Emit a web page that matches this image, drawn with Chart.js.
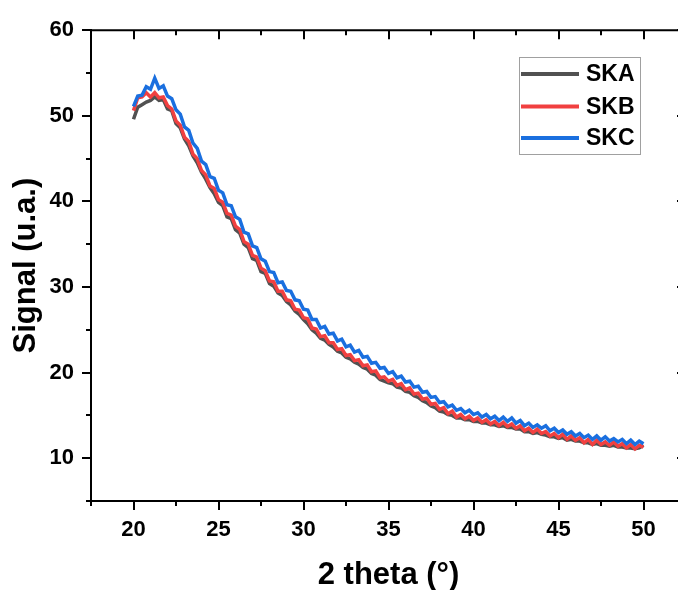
<!DOCTYPE html>
<html><head><meta charset="utf-8">
<script src="https://cdn.jsdelivr.net/npm/chart.js@4/dist/chart.umd.min.js"></script>
<style>html,body{margin:0;padding:0;overflow:hidden;background:#fff;width:678px;height:590px}canvas{display:block}</style>
</head><body><canvas id="c" width="700" height="590"></canvas>
<script>
const angles = [20,20.25,20.5,20.75,21,21.25,21.5,21.75,22,22.25,22.5,22.75,23,23.25,23.5,23.75,24,24.25,24.5,24.75,
25,25.25,25.5,25.75,26,26.25,26.5,26.75,27,27.25,27.5,27.75,28,28.25,28.5,28.75,29,29.25,29.5,29.75,
30,30.25,30.5,30.75,31,31.25,31.5,31.75,32,32.25,32.5,32.75,33,33.25,33.5,33.75,34,34.25,34.5,34.75,
35,35.25,35.5,35.75,36,36.25,36.5,36.75,37,37.25,37.5,37.75,38,38.25,38.5,38.75,39,39.25,39.5,39.75,
40,40.25,40.5,40.75,41,41.25,41.5,41.75,42,42.25,42.5,42.75,43,43.25,43.5,43.75,44,44.25,44.5,44.75,
45,45.25,45.5,45.75,46,46.25,46.5,46.75,47,47.25,47.5,47.75,48,48.25,48.5,48.75,49,49.25,49.5,49.75,50];

const skaValues = [49.6,51.0,51.3,51.6,51.8,52.2,51.8,51.9,50.8,50.6,49.1,48.6,47.3,46.5,45.3,44.5,43.4,42.6,41.6,40.9,
39.9,39.5,38.2,38.0,36.7,36.3,35.0,34.6,33.3,33.1,31.8,31.6,30.4,30.1,29.3,29.0,28.3,27.9,27.2,26.8,
26.2,25.7,25.0,24.6,24.0,23.8,23.3,23.0,22.5,22.3,21.8,21.6,21.2,21.0,20.6,20.4,19.9,19.7,19.2,19.0,
18.8,18.7,18.3,18.2,17.8,17.7,17.3,17.1,16.7,16.5,16.1,15.9,15.5,15.4,15.1,15.0,14.7,14.7,14.5,14.5,
14.3,14.3,14.1,14.1,13.9,13.9,13.7,13.8,13.6,13.6,13.4,13.4,13.1,13.1,12.9,13.0,12.8,12.7,12.5,12.5,
12.3,12.4,12.1,12.2,12.0,12.0,11.8,11.8,11.6,11.7,11.5,11.5,11.4,11.5,11.3,11.3,11.2,11.2,11.1,11.2,11.5];

const skbValues = [50.6,52.1,52.2,52.7,52.2,52.7,52.1,52.2,51.2,50.8,49.4,48.9,47.5,47.0,45.5,45.0,43.6,43.1,41.8,41.5,
40.2,39.9,38.6,38.4,37.1,36.7,35.3,35.0,33.7,33.5,32.2,31.9,30.7,30.6,29.5,29.5,28.5,28.4,27.4,27.3,
26.4,26.3,25.2,25.1,24.2,24.3,23.5,23.5,22.7,22.8,22.0,22.1,21.4,21.5,20.8,20.9,20.1,20.2,19.4,19.5,
19.0,19.2,18.5,18.7,18.0,18.2,17.5,17.6,16.9,17.0,16.3,16.4,15.7,15.9,15.2,15.5,14.8,15.1,14.6,14.9,
14.4,14.7,14.2,14.5,14.0,14.3,13.8,14.2,13.7,14.0,13.5,13.8,13.2,13.5,13.0,13.4,12.9,13.1,12.6,12.9,
12.4,12.8,12.2,12.6,12.1,12.4,11.8,12.2,11.6,12.1,11.6,11.9,11.5,11.9,11.4,11.7,11.2,11.6,11.1,11.5,11.3];

const skcValues = [51.1,52.3,52.4,53.4,53.1,54.4,53.2,53.5,52.3,52.0,50.7,50.2,48.7,48.3,46.8,46.2,44.7,44.3,42.9,42.7,
41.3,41.0,39.6,39.5,38.2,37.9,36.4,36.2,34.8,34.6,33.3,33.0,31.8,31.7,30.5,30.6,29.6,29.5,28.5,28.4,
27.4,27.3,26.2,26.2,25.2,25.4,24.5,24.6,23.7,23.9,23.0,23.2,22.4,22.6,21.8,21.9,21.1,21.2,20.5,20.6,
19.9,20.1,19.4,19.6,18.9,19.0,18.3,18.4,17.7,17.8,17.1,17.2,16.5,16.6,16.0,16.2,15.6,15.8,15.3,15.6,
15.1,15.3,14.8,15.1,14.6,14.9,14.4,14.8,14.3,14.7,14.1,14.4,13.8,14.1,13.6,13.9,13.5,13.8,13.2,13.5,
13.0,13.3,12.8,13.1,12.6,12.9,12.4,12.7,12.2,12.6,12.1,12.5,12.0,12.3,11.9,12.2,11.7,12.1,11.6,12.0,11.7];

const seriesNames = ['SKA','SKB','SKC'];
const xTickValues = [20,25,30,35,40,45,50];
const xMinorTickValues = [17.5,22.5,27.5,32.5,37.5,42.5,47.5,52.5];
const yTickValues = [10,20,30,40,50,60];
const yMinorTickValues = [5,15,25,35,45,55];

const FONT = "'Liberation Sans', Arial, sans-serif";
const pts = vals => angles.map((a,i)=>({x:a,y:vals[i]}));

const framePlugin = {
  id:'frame',
  afterDraw(chart){
    const {ctx, chartArea:a, scales:{x,y}} = chart;
    ctx.save();
    ctx.strokeStyle='#000'; ctx.lineWidth=2; ctx.lineCap='butt';
    const line=(x1,y1,x2,y2)=>{ctx.beginPath();ctx.moveTo(x1,y1);ctx.lineTo(x2,y2);ctx.stroke();};
    line(a.left-1,a.top,a.right,a.top);
    line(a.right,a.top,a.right,a.bottom);
    xTickValues.forEach(v=>{const p=Math.round(x.getPixelForValue(v)); line(p,a.bottom,p,a.bottom+9); line(p,a.top,p,a.top+9);});
    xMinorTickValues.forEach(v=>{const p=Math.round(x.getPixelForValue(v)); line(p,a.bottom,p,a.bottom+5); line(p,a.top,p,a.top+5);});
    yTickValues.forEach(v=>{const p=Math.round(y.getPixelForValue(v)); line(a.left,p,a.left-9,p); line(a.right,p,a.right-9,p);});
    yMinorTickValues.forEach(v=>{const p=Math.round(y.getPixelForValue(v)); line(a.left,p,a.left-5,p); line(a.right,p,a.right-5,p);});
    // legend
    const bx=519.5, by=57.5, bw=121, bh=97;
    ctx.lineWidth=1; ctx.strokeStyle='#a0a0a0';
    ctx.strokeRect(bx,by,bw,bh);
    const rows=[74,106.5,138];
    ctx.font="bold 23px "+FONT; ctx.textBaseline='middle'; ctx.textAlign='left';
    chart.data.datasets.forEach((d,i)=>{
      ctx.strokeStyle=d.borderColor; ctx.lineWidth=4;
      line(521,rows[i],579,rows[i]);
      ctx.fillStyle='#000';
      ctx.fillText(d.label,586,rows[i]+1);
    });
    ctx.restore();
  }
};

new Chart(document.getElementById('c'), {
  type:'line',
  data:{datasets:[
    {label:seriesNames[0], data:pts(skaValues), borderColor:'#515151', borderWidth:3.5, pointRadius:0, order:2},
    {label:seriesNames[1], data:pts(skbValues), borderColor:'#F14040', borderWidth:3.5, pointRadius:0, order:1},
    {label:seriesNames[2], data:pts(skcValues), borderColor:'#1A6FDF', borderWidth:3.5, pointRadius:0, order:0}
  ]},
  options:{
    responsive:false, animation:false,
    layout:{padding:{top:22,right:14,left:0,bottom:0}},
    plugins:{legend:{display:false}, tooltip:{enabled:false}},
    scales:{
      x:{type:'linear', min:17.5, max:52.5,
        afterBuildTicks:s=>{s.ticks=xTickValues.map(v=>({value:v}));},
        afterFit:s=>{s.height=89;},
        grid:{display:false, drawTicks:false},
        border:{display:true, color:'#000', width:2},
        ticks:{padding:16, color:'#000', font:{family:FONT, size:22, weight:'bold'}, maxRotation:0},
        title:{display:true, text:'2 theta (°)', color:'#000', padding:{top:0,bottom:-1}, font:{family:FONT, size:31, weight:'bold', lineHeight:1}}
      },
      y:{type:'linear', min:5, max:60,
        afterBuildTicks:s=>{s.ticks=yTickValues.map(v=>({value:v}));},
        afterFit:s=>{s.width=91;},
        grid:{display:false, drawTicks:false},
        border:{display:true, color:'#000', width:2},
        ticks:{padding:17, color:'#000', font:{family:FONT, size:22, weight:'bold'}},
        title:{display:true, text:'Signal (u.a.)', color:'#000', padding:{top:10.5,bottom:0}, font:{family:FONT, size:31, weight:'bold', lineHeight:1}}
      }
    }
  },
  plugins:[framePlugin]
});
</script></body></html>
